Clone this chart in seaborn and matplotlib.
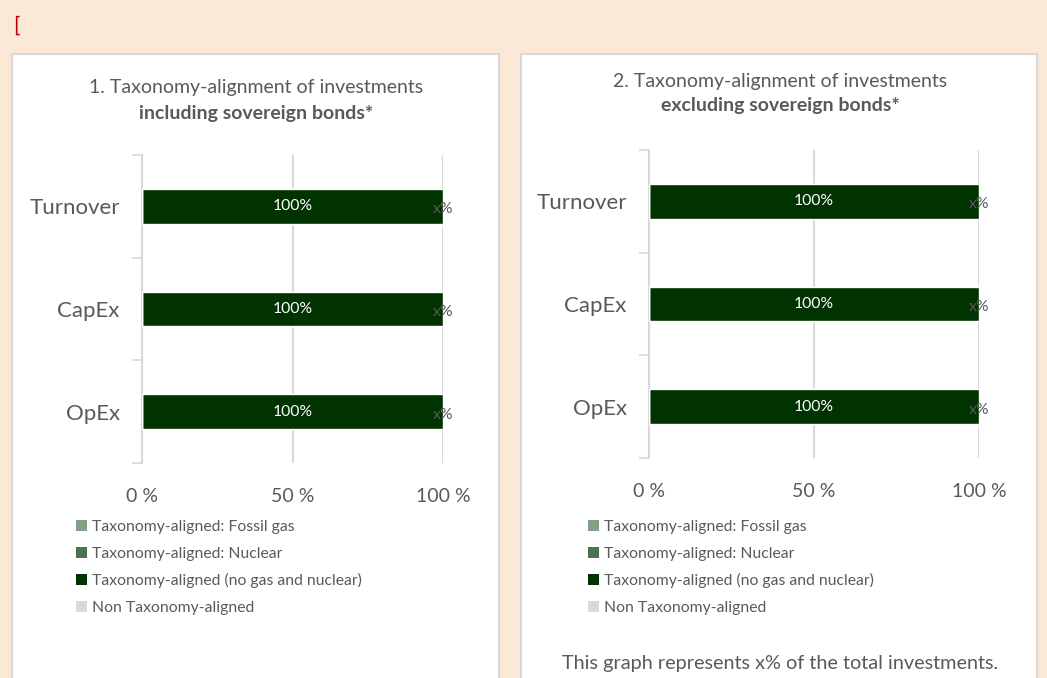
import pandas as pd
import matplotlib.pyplot as plt
import seaborn as sns
from matplotlib.patches import Patch, Rectangle

# chart data
categories = ["Turnover", "CapEx", "OpEx"]
series_names = ["Taxonomy-aligned: Fossil gas",
                "Taxonomy-aligned: Nuclear",
                "Taxonomy-aligned (no gas and nuclear)",
                "Non Taxonomy-aligned"]
incl_fossil = [0, 0, 0]
incl_nuclear = [0, 0, 0]
incl_aligned = [100, 100, 100]
incl_non = [0, 0, 0]
excl_fossil = [0, 0, 0]
excl_nuclear = [0, 0, 0]
excl_aligned = [100, 100, 100]
excl_non = [0, 0, 0]
aligned_labels = ["100%", "100%", "100%"]
non_labels = ["x%", "x%", "x%"]
x_ticks = [0, 50, 100]
x_tick_labels = ["0 %", "50 %", "100 %"]
titles = [("1. Taxonomy-alignment of investments", "including sovereign bonds*"),
          ("2. Taxonomy-alignment of investments", "excluding sovereign bonds*")]
footnote = "This graph represents x% of the total investments."

colors = ["#849F86", "#4C7351", "#003300", "#D9D9D9"]
text_grey = "#595959"
line_grey = "#D9D9D9"

sns.set_theme(style="white")
plt.rcParams["font.family"] = ["Lato", "DejaVu Sans"]

fig = plt.figure(figsize=(10.47, 6.78), dpi=100, facecolor="#FBE8D7")

# white panels behind the charts
for x0, w in [(12 / 1047, 487 / 1047), (521 / 1047, 516 / 1047)]:
    fig.patches.append(Rectangle((x0, -0.02), w, 1 - 54 / 678 + 0.02,
                                 transform=fig.transFigure, facecolor="white",
                                 edgecolor=line_grey, lw=1.5, zorder=-5))

fig.text(0.013, 0.962, "[", color="#C00000", fontsize=15, va="center")


def draw_panel(ax, fossil, nuclear, aligned, non, title, tx, ty1, ty2, legend_x):
    df = pd.DataFrame({"cat": categories, "fossil": fossil, "nuclear": nuclear,
                       "aligned": aligned, "non": non})
    # cumulative totals, drawn from largest to smallest
    df["c1"] = df["fossil"]
    df["c2"] = df["c1"] + df["nuclear"]
    df["c3"] = df["c2"] + df["aligned"]
    df["c4"] = df["c3"] + df["non"]
    for col, color in zip(["c4", "c3", "c2", "c1"], colors[::-1]):
        sns.barplot(data=df, x=col, y="cat", orient="h", color=color,
                    width=0.34, ax=ax, saturation=1, zorder=3)
    aligned_container = ax.containers[1]
    ax.bar_label(aligned_container, labels=aligned_labels, label_type="center",
                 color="white", fontsize=11.3)
    for i, (end, lab) in enumerate(zip(df["c4"], non_labels)):
        ax.text(end, i + 0.03, lab, ha="center", va="center",
                color=text_grey, fontsize=11.3, zorder=4)

    ax.set_xlim(0, 100)
    ax.set_ylim(2.5, -0.5)
    ax.set_xlabel("")
    ax.set_ylabel("")
    ax.set_xticks(x_ticks)
    ax.set_xticklabels(x_tick_labels)
    ax.set_yticks([-0.5, 0.5, 1.5, 2.5], minor=True)
    ax.tick_params(axis="x", length=0, pad=18, labelsize=14, labelcolor=text_grey)
    ax.tick_params(axis="y", which="major", length=0, pad=16, labelsize=16,
                   labelcolor=text_grey)
    ax.tick_params(axis="y", which="minor", length=7, width=1.2, color=line_grey,
                   left=True)
    for s in ["top", "right", "bottom"]:
        ax.spines[s].set_visible(False)
    ax.spines["left"].set_color(line_grey)
    ax.spines["left"].set_linewidth(1.5)
    ax.set_axisbelow(True)
    ax.xaxis.grid(True, color=line_grey, lw=1.5)
    ax.yaxis.grid(False)
    ax.set_facecolor("white")

    fig.text(tx, ty1, title[0], ha="center", va="center", color=text_grey, fontsize=14)
    fig.text(tx, ty2, title[1], ha="center", va="center", color=text_grey,
             fontsize=14, fontweight="bold")

    handles = [Patch(facecolor=c, edgecolor="none") for c in colors]
    fig.legend(handles, series_names, loc="upper left",
               bbox_to_anchor=(legend_x, 1 - 520 / 678), bbox_transform=fig.transFigure,
               frameon=False, fontsize=11.3, labelcolor=text_grey,
               handlelength=0.7, handleheight=0.7, handletextpad=0.35,
               labelspacing=0.8, borderpad=0, borderaxespad=0)


ax1 = fig.add_axes([142 / 1047, (678 - 463) / 678, 301 / 1047, 308 / 678])
ax2 = fig.add_axes([649 / 1047, (678 - 458) / 678, 330 / 1047, 308 / 678])

draw_panel(ax1, incl_fossil, incl_nuclear, incl_aligned, incl_non, titles[0],
           256 / 1047, 1 - 88 / 678, 1 - 113 / 678, 76 / 1047)
draw_panel(ax2, excl_fossil, excl_nuclear, excl_aligned, excl_non, titles[1],
           780 / 1047, 1 - 81 / 678, 1 - 106 / 678, 588 / 1047)

fig.text(780 / 1047, 1 - 663 / 678, footnote, ha="center", va="center",
         color=text_grey, fontsize=14.3)

fig.savefig("out.png", dpi=100, facecolor=fig.get_facecolor())
